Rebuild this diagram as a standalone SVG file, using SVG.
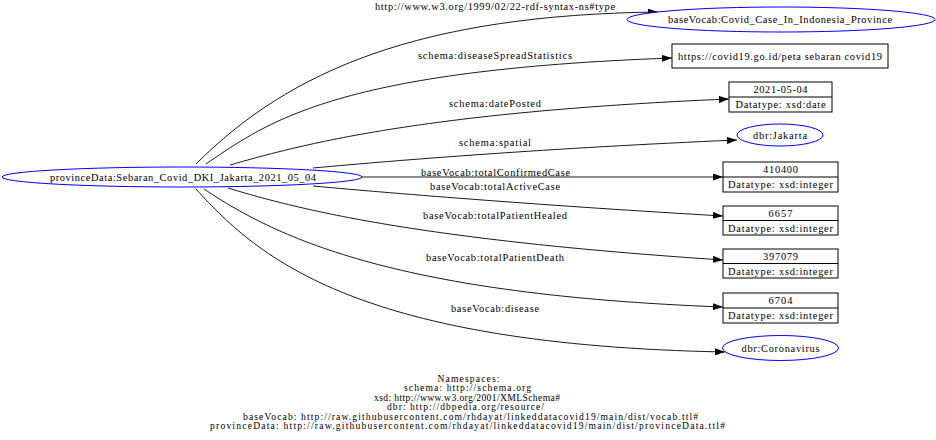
<svg xmlns="http://www.w3.org/2000/svg" width="936" height="440" viewBox="0 0 936 440">
<style>
text{font-family:"Liberation Serif","Times New Roman",serif;font-size:10.4px;fill:#000}
.c{text-anchor:middle}
.ns{font-size:9.6px}
.uri{fill:#fff;stroke:#0000ff;stroke-width:1}
.lit{fill:#fff;stroke:#000;stroke-width:1}
.div{stroke:#000;stroke-width:1}
.e{fill:none;stroke:#000;stroke-width:0.9;marker-end:url(#ah)}
</style>
<defs>
<marker id="ah" markerUnits="userSpaceOnUse" markerWidth="10" markerHeight="7" refX="10" refY="3.5" orient="auto">
<path d="M0,0 L10,3.5 L0,7 z" fill="#000"/>
</marker>
</defs>
<rect width="936" height="440" fill="#fff"/>
<g id="edges">
<path class="e" d="M196,164 C290,70 420,15 658,12"/>
<path class="e" d="M206,164 C270,120 340,70 672,58"/>
<path class="e" d="M230,165 C300,145 420,112 729,99"/>
<path class="e" d="M313,168 C400,160 550,148 737,140"/>
<path class="e" d="M362,177 L723,177"/>
<path class="e" d="M313,186 C400,194 550,206 723,216"/>
<path class="e" d="M228,188 C300,210 420,240 723,260"/>
<path class="e" d="M204,189 C280,240 400,295 723,307"/>
<path class="e" d="M196,189 C260,260 360,345 725,352"/>
<text class="c" x="495" y="10" textLength="240">http://www.w3.org/1999/02/22-rdf-syntax-ns#type</text>
<text class="c" x="495" y="59" textLength="154">schema:diseaseSpreadStatistics</text>
<text class="c" x="495" y="107" textLength="92">schema:datePosted</text>
<text class="c" x="495" y="146" textLength="72">schema:spatial</text>
<text class="c" x="495.5" y="176" textLength="149">baseVocab:totalConfirmedCase</text>
<text class="c" x="495" y="190" textLength="130">baseVocab:totalActiveCase</text>
<text class="c" x="495" y="219" textLength="144">baseVocab:totalPatientHealed</text>
<text class="c" x="495" y="261" textLength="138">baseVocab:totalPatientDeath</text>
<text class="c" x="495" y="312" textLength="88">baseVocab:disease</text>
</g>
<g id="n_src">
<ellipse class="uri" cx="182" cy="177" rx="180" ry="10"/>
<text class="c" x="183" y="181" textLength="266">provinceData:Sebaran_Covid_DKI_Jakarta_2021_05_04</text>
</g>
<g id="n_type">
<ellipse class="uri" cx="781" cy="19.5" rx="154" ry="12.5"/>
<text class="c" x="780" y="23" textLength="224">baseVocab:Covid_Case_In_Indonesia_Province</text>
</g>
<g id="n_url">
<rect class="lit" x="672" y="44" width="216" height="24"/>
<text class="c" x="780" y="60" textLength="204">https://covid19.go.id/peta sebaran covid19</text>
</g>
<g id="n_date">
<rect class="lit" x="729" y="82" width="103" height="30"/>
<line class="div" x1="729" y1="97" x2="832" y2="97"/>
<text class="c" x="780.5" y="93" textLength="54">2021-05-04</text>
<text class="c" x="780.5" y="108" textLength="90">Datatype: xsd:date</text>
</g>
<g id="n_jakarta">
<ellipse class="uri" cx="780" cy="135" rx="43" ry="11"/>
<text class="c" x="780" y="139" textLength="54">dbr:Jakarta</text>
</g>
<g id="n_confirmed">
<rect class="lit" x="723" y="162" width="115" height="30"/>
<line class="div" x1="723" y1="177" x2="838" y2="177"/>
<text class="c" x="780.5" y="173" textLength="35">410400</text>
<text class="c" x="780.5" y="188" textLength="105">Datatype: xsd:integer</text>
</g>
<g id="n_active">
<rect class="lit" x="723" y="206" width="115" height="29"/>
<line class="div" x1="723" y1="220.5" x2="838" y2="220.5"/>
<text class="c" x="780.5" y="217" textLength="24">6657</text>
<text class="c" x="780.5" y="232" textLength="105">Datatype: xsd:integer</text>
</g>
<g id="n_healed">
<rect class="lit" x="723" y="249" width="115" height="29"/>
<line class="div" x1="723" y1="263.5" x2="838" y2="263.5"/>
<text class="c" x="780.5" y="260" textLength="35">397079</text>
<text class="c" x="780.5" y="275" textLength="105">Datatype: xsd:integer</text>
</g>
<g id="n_death">
<rect class="lit" x="723" y="293" width="115" height="30"/>
<line class="div" x1="723" y1="308" x2="838" y2="308"/>
<text class="c" x="780.5" y="304" textLength="24">6704</text>
<text class="c" x="780.5" y="319" textLength="105">Datatype: xsd:integer</text>
</g>
<g id="n_corona">
<ellipse class="uri" cx="780.5" cy="348" rx="58" ry="12.5"/>
<text class="c" x="780.5" y="352" textLength="78">dbr:Coronavirus</text>
</g>
<g id="namespaces">
<text class="c ns" x="468.5" y="381.5" textLength="62">Namespaces:</text>
<text class="c ns" x="467.5" y="391" textLength="127">schema: http://schema.org</text>
<text class="c ns" x="467" y="400.5" textLength="186">xsd: http://www.w3.org/2001/XMLSchema#</text>
<text class="c ns" x="465.5" y="410" textLength="157">dbr: http://dbpedia.org/resource/</text>
<text class="c ns" x="470.5" y="419.5" textLength="455">baseVocab: http://raw.githubusercontent.com/rhdayat/linkeddatacovid19/main/dist/vocab.ttl#</text>
<text class="c ns" x="467.5" y="429" textLength="515">provinceData: http://raw.githubusercontent.com/rhdayat/linkeddatacovid19/main/dist/provinceData.ttl#</text>
</g>
</svg>
